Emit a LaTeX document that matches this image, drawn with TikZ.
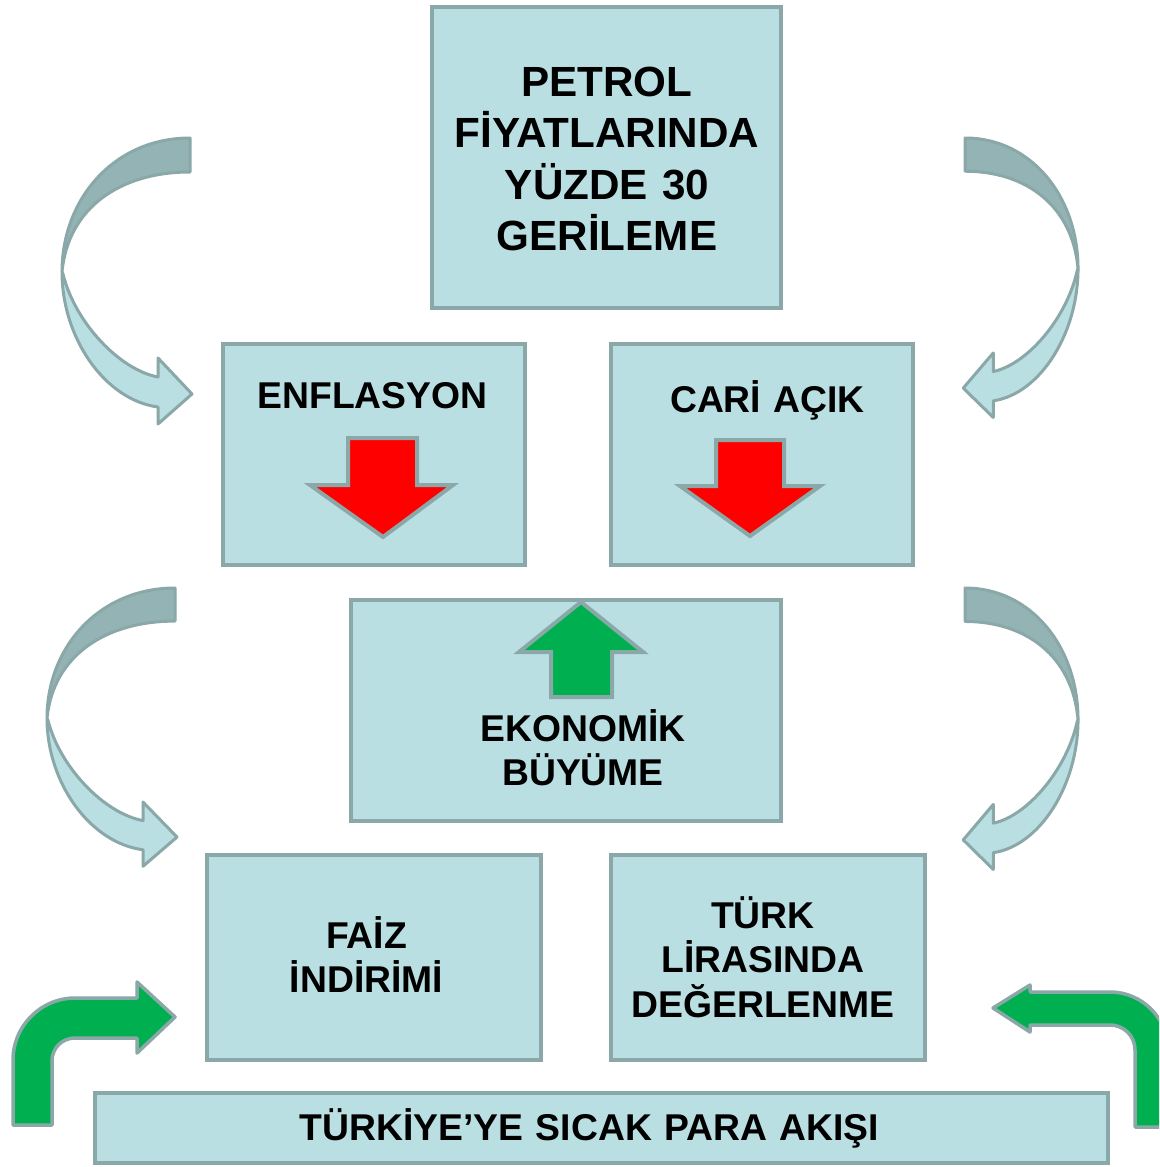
\documentclass[tikz,border=0pt]{standalone}
\usepackage{fontspec}
\setmainfont{Liberation Sans}
\definecolor{boxfill}{HTML}{BADFE3}
\definecolor{boxline}{HTML}{8BA8A9}
\definecolor{darkfill}{HTML}{93B3B4}
\definecolor{arrred}{HTML}{FF0000}
\definecolor{arrgreen}{HTML}{00B050}
\tikzset{
  box/.style={draw=boxline, fill=boxfill, line width=4pt, inner sep=0pt},
  lbl/.style={anchor=base, text width=420pt, align=center, inner sep=0pt,
    font=\bfseries\fontsize{37.3}{44.5}\selectfont},
  ttl/.style={anchor=base, text width=420pt, align=center, inner sep=0pt,
    font=\bfseries\fontsize{42.2}{51.5}\selectfont},
  blockarrow/.style={draw=boxline, line width=4pt, line join=miter},
  curvlight/.style={draw=boxline, fill=boxfill, line width=3pt, line join=round},
  curvdark/.style={draw=boxline, fill=darkfill, line width=3pt, line join=round},
  bentarrow/.style={draw=boxline, fill=arrgreen, line width=3.5pt, line join=round},
}
\newcommand{\curvedarrow}{%
  \path[curvlight] (-128,134) .. controls (-128,200) and (-85,262) .. (-32,269)
    -- (-32,286) -- (2,256) -- (-32,220) -- (-32,239)
    .. controls (-70,232) and (-115,185) .. (-127,136) -- cycle;
  \path[curvdark] (0,0) -- (0,34) .. controls (-70,34) and (-122,70) .. (-128,134)
    .. controls (-128,60) and (-75,0) .. (0,0) -- cycle;
}
\begin{document}
\begin{tikzpicture}[x=1pt, y=-1pt]
\clip (0,0) rectangle (1159,1167);
\fill[white] (0,0) rectangle (1159,1167);

% boxes
\node[box, minimum width=349pt, minimum height=301pt] (petrol) at (606.5,157.5) {};
\node[box, minimum width=302pt, minimum height=221pt] (enf) at (374,454.5) {};
\node[box, minimum width=302pt, minimum height=221pt] (cari) at (762,454.5) {};
\node[box, minimum width=430pt, minimum height=221pt] (eko) at (566,710.5) {};
\node[box, minimum width=334pt, minimum height=205pt] (faiz) at (374,957.5) {};
\node[box, minimum width=314pt, minimum height=205pt] (tl) at (768,957.5) {};
\node[box, minimum width=1013pt, minimum height=70pt] (sicak) at (601.5,1128) {};

% texts
\node[ttl] (tpetrol) at (607,96) {PETROL\\FİYATLARINDA\\YÜZDE 30\\GERİLEME};
\node[lbl] (tenf) at (372.5,408) {ENFLASYON};
\node[lbl] (tcari) at (767.5,412) {CARİ AÇIK};
\node[lbl] (teko) at (583,741) {EKONOMİK\\BÜYÜME};
\node[lbl] (tfaiz) at (366.5,948) {FAİZ\\İNDİRİMİ};
\node[lbl] (ttl) at (763,928) {TÜRK\\LİRASINDA\\DEĞERLENME};
\node[lbl, text width=700pt] (tsicak) at (589.5,1140) {TÜRKİYE’YE SICAK PARA AKIŞI};

% arrows inside boxes
\path[blockarrow, fill=arrred] (348,438) -- (417,438) -- (417,485) -- (453,485)
  -- (383,537) -- (310,485) -- (348,485) -- cycle;
\path[blockarrow, fill=arrred] (716,440) -- (784,440) -- (784,486) -- (820,486)
  -- (750,536) -- (680,486) -- (716,486) -- cycle;
\path[blockarrow, fill=arrgreen] (551,697) -- (612,697) -- (612,652) -- (643,652)
  -- (581,602) -- (519,652) -- (551,652) -- cycle;

% curved arrows
\begin{scope}[shift={(190,138)}]
  \curvedarrow
\end{scope}
\begin{scope}[shift={(965,138)}, xscale=-0.883, yscale=0.977]
  \curvedarrow
\end{scope}
\begin{scope}[shift={(175,588)}, xscale=1.0, yscale=0.973]
  \curvedarrow
\end{scope}
\begin{scope}[shift={(965,588)}, xscale=-0.883, yscale=0.984]
  \curvedarrow
\end{scope}

% bent green arrows
\path[bentarrow] (13,1125) -- (13,1060) .. controls (13,1026) and (41,998) .. (75,998)
  -- (137,998) -- (137,982) -- (175,1017) -- (137,1053) -- (137,1038) -- (75,1038)
  .. controls (62,1038) and (52,1048) .. (52,1061) -- (52,1125) -- cycle;
\path[bentarrow] (1135,1127) -- (1135,1050) .. controls (1135,1036) and (1124,1025) .. (1110,1025)
  -- (1030,1025) -- (1030,1032) -- (993,1008) -- (1030,985) -- (1030,992) -- (1110,992)
  .. controls (1142,992) and (1168,1018) .. (1168,1050) -- (1168,1127) -- cycle;
\end{tikzpicture}
\end{document}
